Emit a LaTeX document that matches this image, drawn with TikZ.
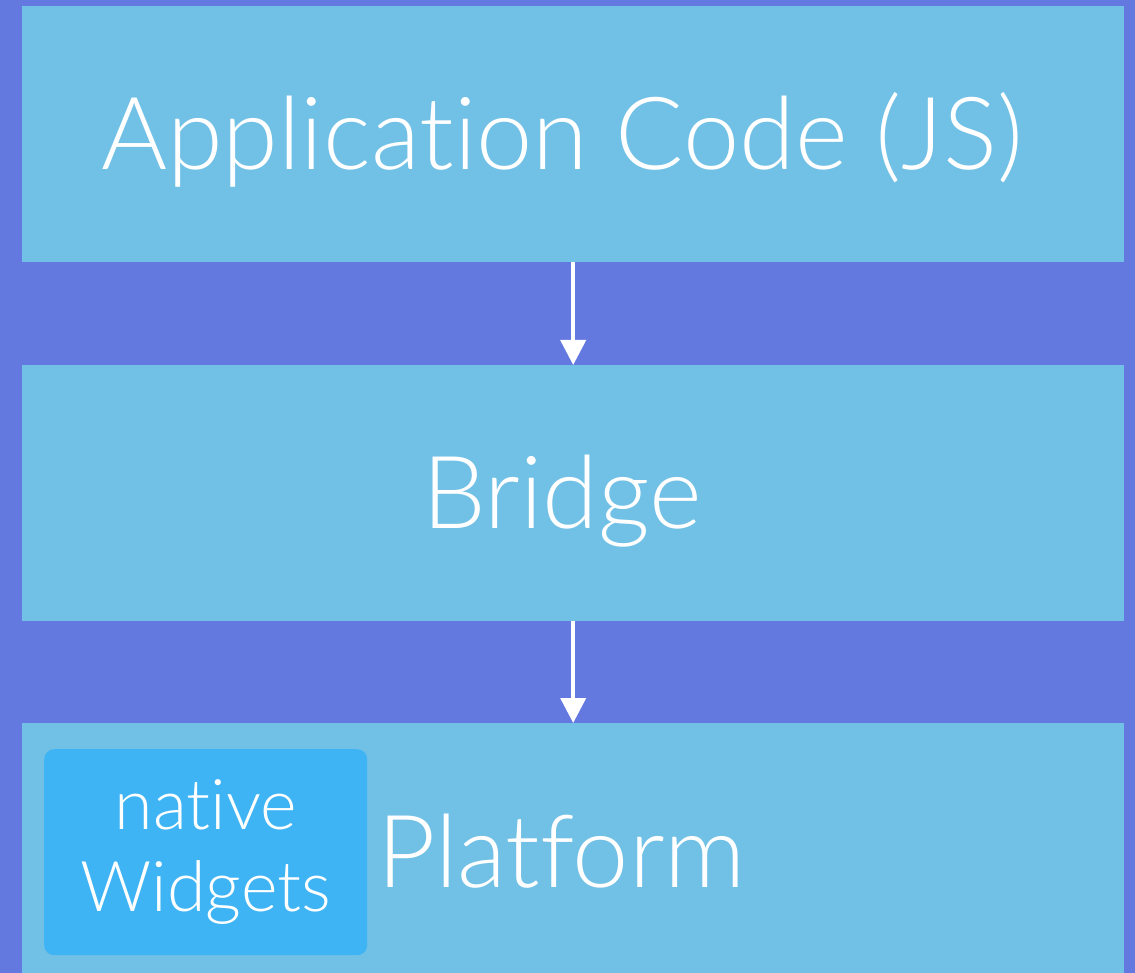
\documentclass[tikz,border=0pt]{standalone}
\usepackage{fontspec}
\setmainfont{Lato}[UprightFont={* Light}, RawFeature={-liga;-dlig}]
\usetikzlibrary{arrows.meta}
\definecolor{bgc}{HTML}{6479E0}
\definecolor{layerc}{HTML}{71C0E6}
\definecolor{widgetc}{HTML}{3EB4F4}
\tikzset{
  layerbox/.style={fill=layerc, draw=none, inner sep=0pt, anchor=north west, minimum width=1102pt},
  bigtext/.style={text=white, inner sep=0pt, anchor=base, font=\fontsize{101}{120}\selectfont},
  arr/.style={draw=white, line width=4pt, -{Triangle[width=25pt,length=25pt]}, shorten >=0pt},
  widgetbox/.style={fill=widgetc, rounded corners=10pt, inner sep=0pt, anchor=north west, minimum width=323pt, minimum height=206pt, text=white, align=center, font=\fontsize{70}{82}\selectfont}
}
\begin{document}
\begin{tikzpicture}[x=1pt,y=-1pt]
\useasboundingbox (0,0) rectangle (1135,973);
\fill[bgc] (0,0) rectangle (1135,973);
\node[layerbox, minimum height=256pt] (app) at (22,6) {};
\node[layerbox, minimum height=256pt] (bridge) at (22,365) {};
\begin{scope}
\clip (0,0) rectangle (1135,973);
\node[layerbox, minimum height=260pt] (platform) at (22,723) {};
\end{scope}
\node[bigtext] (apptext) at (562,170) {Application Code (JS)};
\node[bigtext] (bridgetext) at (562,528) {Bridge};
\node[bigtext, anchor=base west] (platformtext) at (377,887) {Platform};
\node[widgetbox] (widgets) at (44,749) {native\\Widgets};
\draw[arr] (app.south) -- (bridge.north);
\draw[arr] (bridge.south) -- (platform.north);
\end{tikzpicture}
\end{document}
